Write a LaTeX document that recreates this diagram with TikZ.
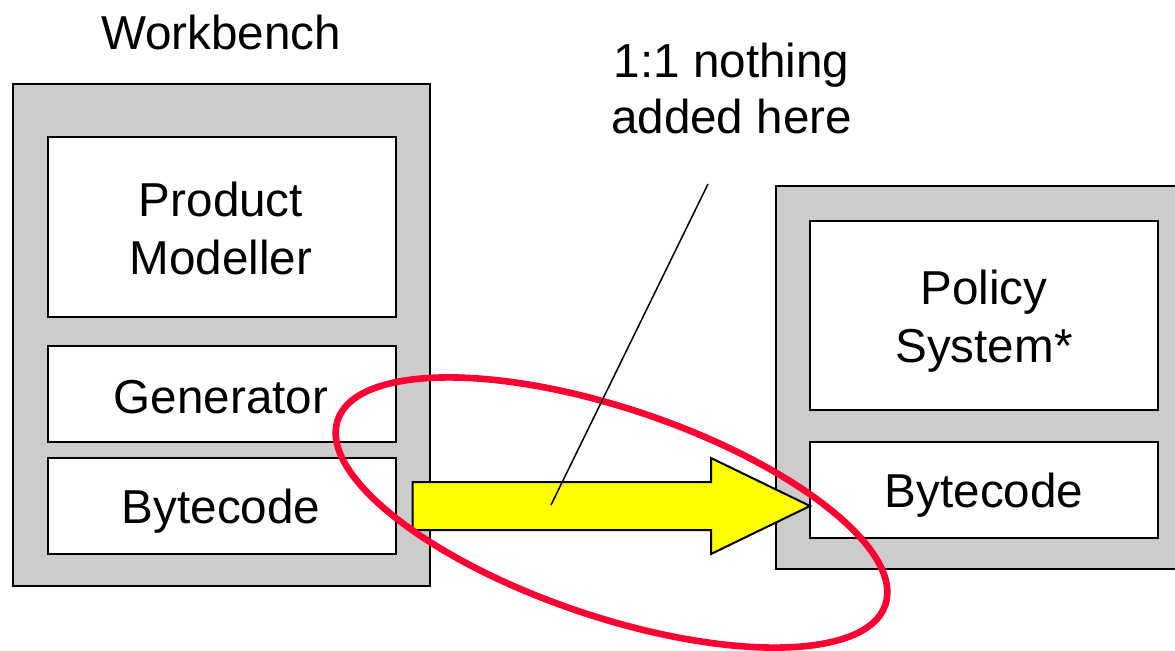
\documentclass[tikz,border=0pt]{standalone}
\usepackage{fontspec}
\setmainfont{Liberation Sans}
\usetikzlibrary{shapes.geometric,fit,calc}
\definecolor{panelgray}{RGB}{204,204,204}
\definecolor{ringred}{RGB}{255,0,51}
\definecolor{arrowyellow}{RGB}{255,255,0}

\begin{document}
\begin{tikzpicture}[x=0.5pt,y=-0.5pt,
  panel/.style={draw=black, line width=1pt, fill=panelgray, inner sep=0pt, outer sep=0pt},
  part/.style={draw=black, line width=1pt, fill=white, inner sep=0pt, outer sep=0pt},
  txt/.style={font=\fontsize{23.8}{29}\selectfont, inner sep=0pt, anchor=base},
  arrowbody/.style={draw=black, line width=1pt, fill=arrowyellow, line join=miter},
  ring/.style={draw=ringred, line width=3.3pt, ellipse, inner sep=0pt},
  callout/.style={draw=black, line width=0.75pt},
]
\clip (0,0) rectangle (1175,650);

% Workbench panel
\node[panel, fit={(13,84) (430,586)}] (wb) {};
\node[part, fit={(47.5,137) (395.5,317)}] (pm) {};
\node[part, fit={(47.5,346) (395.5,442)}] (gen) {};
\node[part, fit={(47.5,458) (395.5,554)}] (lbyte) {};
\node[txt] (wbtitle) at (221,49) {Workbench};
\node[txt] (pm1) at (221,216) {Product};
\node[txt] (pm2) at (221,274) {Modeller};
\node[txt] (gentxt) at (221,413) {Generator};
\node[txt] (lbtxt) at (221,523) {Bytecode};

% Policy system panel
\node[panel, fit={(776,186) (1192,569)}] (ps) {};
\node[part, fit={(810,221) (1158,410)}] (pol) {};
\node[part, fit={(810,442) (1158,538)}] (rbyte) {};
\node[txt] (pol1) at (984,304) {Policy};
\node[txt] (pol2) at (984,362) {System*};
\node[txt] (rbtxt) at (984,507) {Bytecode};

% Transfer arrow from bytecode to bytecode
\coordinate (tail) at ([xshift=8.5pt]lbyte.east);
\coordinate (tip) at (lbyte.east -| rbyte.west);
\path[arrowbody] ($(tail)+(0,-24)$) -- ($(tip)+(-99,-24)$) -- ($(tip)+(-99,-48)$)
  -- (tip) -- ($(tip)+(-99,48)$) -- ($(tip)+(-99,24)$) -- ($(tail)+(0,24)$) -- cycle;

% Highlight ring
\node[ring, minimum width=289pt, minimum height=104pt, rotate=-18.65] (hl) at (611.5,512.5) {};

% Note and its pointer
\node[txt] (note1) at (731.5,77) {1:1 nothing};
\node[txt] (note2) at (731.5,133) {added here};
\coordinate (ptop) at (708,184);
\coordinate (pend) at (551,505);
\draw[callout] (ptop) -- (pend);
\end{tikzpicture}
\end{document}
